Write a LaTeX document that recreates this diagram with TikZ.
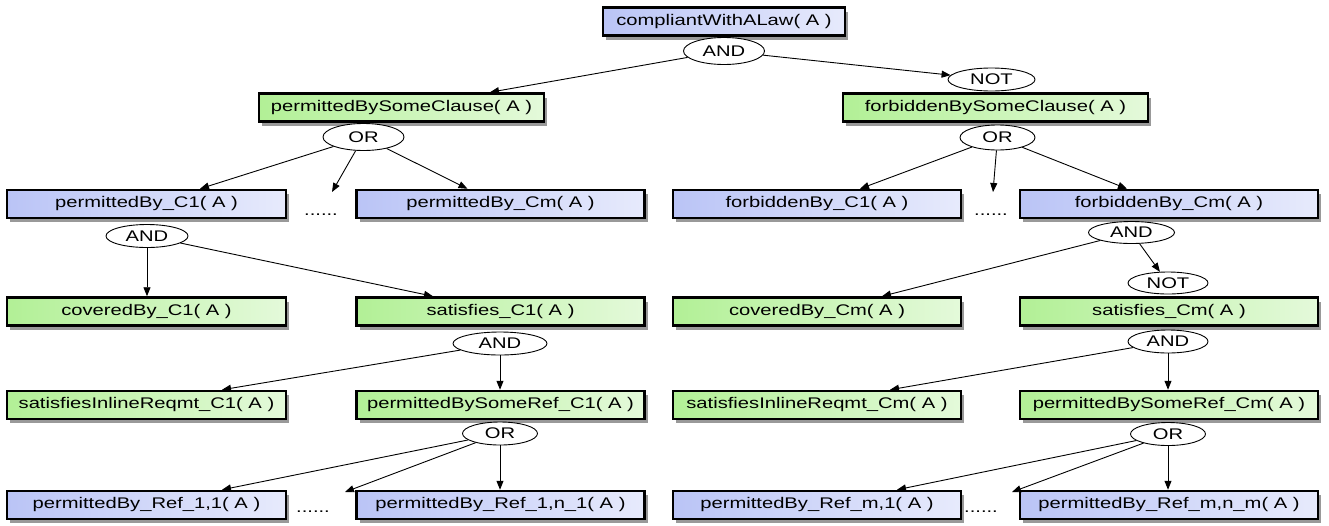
\documentclass[tikz,border=0pt]{standalone}
\usepackage{fontspec}
\setmainfont{Liberation Sans}[FakeStretch=1.31]
\usetikzlibrary{shapes.geometric,arrows.meta,shadows}
\definecolor{bluebox}{RGB}{186,196,246}
\definecolor{greenbox}{RGB}{178,240,150}
\tikzset{
  lbl/.style={font=\fontsize{15.4}{18}\selectfont},
  box/.style={lbl, draw=black, line width=2.5pt, minimum height=28pt, inner sep=0pt,
    drop shadow={shadow xshift=3pt, shadow yshift=-4pt, opacity=0.4, fill=black}},
  bbox/.style={box, left color=bluebox, middle color=bluebox!65!white, right color=bluebox!35!white},
  gbox/.style={box, left color=greenbox, middle color=greenbox!65!white, right color=greenbox!35!white},
  gate/.style={lbl, ellipse, draw=black, line width=0.9pt, fill=white, inner sep=0pt},
  arr/.style={-{Triangle[length=9pt,width=7pt]}, line width=0.9pt},
  dotsnode/.style={lbl, anchor=base, inner sep=0pt}
}
\begin{document}
\begin{tikzpicture}[x=1pt,y=-1pt]
\useasboundingbox (0,0) rectangle (1329,525);
% boxes
\node[bbox, minimum width=242pt] (top) at (724,21.5) {compliantWithALaw( A )};
\node[gbox, minimum width=285pt] (psc) at (401.5,107.5) {permittedBySomeClause( A )};
\node[gbox, minimum width=305pt] (fsc) at (995.5,107.5) {forbiddenBySomeClause( A )};
\node[bbox, minimum width=279pt] (pC1) at (146.5,204) {permittedBy\_C1( A )};
\node[bbox, minimum width=288pt] (pCm) at (500.5,204) {permittedBy\_Cm( A )};
\node[bbox, minimum width=288pt] (fC1) at (817,204) {forbiddenBy\_C1( A )};
\node[bbox, minimum width=298pt] (fCm) at (1169,204) {forbiddenBy\_Cm( A )};
\node[gbox, minimum width=279pt] (cC1) at (146.5,311.5) {coveredBy\_C1( A )};
\node[gbox, minimum width=288pt] (sC1) at (500.5,311.5) {satisfies\_C1( A )};
\node[gbox, minimum width=288pt] (cCm) at (817,311.5) {coveredBy\_Cm( A )};
\node[gbox, minimum width=298pt] (sCm) at (1169,311.5) {satisfies\_Cm( A )};
\node[gbox, minimum width=279pt] (iC1) at (146.5,405) {satisfiesInlineReqmt\_C1( A )};
\node[gbox, minimum width=288pt] (rC1) at (500.5,405) {permittedBySomeRef\_C1( A )};
\node[gbox, minimum width=288pt] (iCm) at (817,405) {satisfiesInlineReqmt\_Cm( A )};
\node[gbox, minimum width=298pt] (rCm) at (1169,405) {permittedBySomeRef\_Cm( A )};
\node[bbox, minimum width=279pt] (r11) at (146.5,505) {permittedBy\_Ref\_1,1( A )};
\node[bbox, minimum width=288pt] (r1n) at (500.5,505) {permittedBy\_Ref\_1,n\_1( A )};
\node[bbox, minimum width=288pt] (rm1) at (817,505) {permittedBy\_Ref\_m,1( A )};
\node[bbox, minimum width=298pt] (rmn) at (1169,505) {permittedBy\_Ref\_m,n\_m( A )};
% dots
\node[dotsnode] (d3l) at (321,215) {......};
\node[dotsnode] (d3r) at (991,215) {......};
\node[dotsnode] (d6l) at (313,512) {......};
\node[dotsnode] (d6r) at (981,512) {......};
\coordinate (t3l) at (332,192);
\coordinate (t3r) at (993,192);
\coordinate (t6l) at (345,492);
\coordinate (t6r) at (1012,492);
% gates
\node[gate, minimum width=81pt, minimum height=27pt] (and1) at (724,51) {AND};
\node[gate, minimum width=87pt, minimum height=23pt] (not1) at (991.5,79.5) {NOT};
\node[gate, minimum width=81pt, minimum height=27pt] (or1) at (363.5,137) {OR};
\node[gate, minimum width=75pt, minimum height=25pt] (or2) at (997.5,137.5) {OR};
\node[gate, minimum width=82pt, minimum height=23pt] (andA) at (147,236) {AND};
\node[gate, minimum width=86pt, minimum height=22pt] (andB) at (1131.5,232.5) {AND};
\node[gate, minimum width=80pt, minimum height=22pt] (notB) at (1168,283) {NOT};
\node[gate, minimum width=94pt, minimum height=23pt] (andC) at (500,343.5) {AND};
\node[gate, minimum width=80pt, minimum height=23pt] (andD) at (1168,341.5) {AND};
\node[gate, minimum width=75pt, minimum height=23pt] (orC) at (500,433.5) {OR};
\node[gate, minimum width=75pt, minimum height=23pt] (orD) at (1168,434) {OR};
% connectors
\draw[arr] (and1) -- ([xshift=88.5pt]psc.north);
\draw[arr] (and1) -- (not1);
\draw[arr] (or1) -- ([xshift=53.5pt]pC1.north);
\draw[arr] (or1) -- (t3l);
\draw[arr] (or1) -- ([xshift=-33pt]pCm.north);
\draw[arr] (or2) -- ([xshift=43pt]fC1.north);
\draw[arr] (or2) -- (t3r);
\draw[arr] (or2) -- ([xshift=-42pt]fCm.north);
\draw[arr] (andA) -- (andA |- cC1.north);
\draw[arr] (andA) -- ([xshift=-67.5pt]sC1.north);
\draw[arr] (andB) -- ([xshift=65pt]cCm.north);
\draw[arr] (andB) -- (notB);
\draw[arr] (andC) -- ([xshift=75.5pt]iC1.north);
\draw[arr] (andC) -- (andC |- rC1.north);
\draw[arr] (andD) -- ([xshift=73pt]iCm.north);
\draw[arr] (andD) -- (andD |- rCm.north);
\draw[arr] (orC) -- ([xshift=75.5pt]r11.north);
\draw[arr] (orC) -- (t6l);
\draw[arr] (orC) -- (orC |- r1n.north);
\draw[arr] (orD) -- ([xshift=80pt]rm1.north);
\draw[arr] (orD) -- (t6r);
\draw[arr] (orD) -- (orD |- rmn.north);
\end{tikzpicture}
\end{document}
